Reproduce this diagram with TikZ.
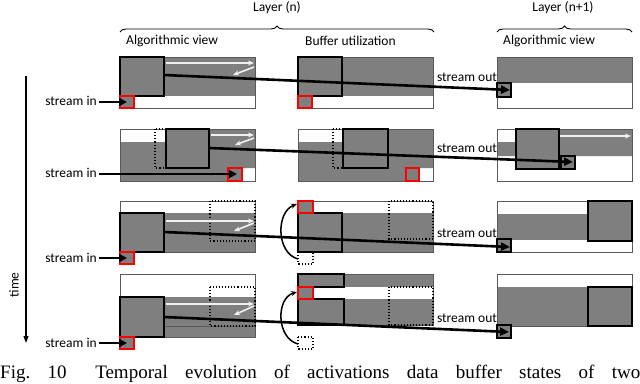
\documentclass[tikz,border=0pt]{standalone}
\usepackage{fontspec}
\setmainfont{Carlito}
\newfontfamily\capfont{Liberation Serif}
\usetikzlibrary{arrows.meta,decorations.pathreplacing}
\definecolor{bufgray}{HTML}{7F7F7F}
\definecolor{boxline}{HTML}{5A5A5A}
\definecolor{warr}{HTML}{F0F0F0}
\definecolor{redsq}{HTML}{FF0000}
\tikzset{
  lbl/.style={font=\fontsize{13.5}{16}\selectfont, inner sep=0pt},
  bufbox/.style={draw=boxline, line width=0.9pt},
  gfill/.style={fill=bufgray},
  tile/.style={draw=black, line width=1.3pt, fill=bufgray},
  rsq/.style={draw=redsq, line width=1.3pt, fill=bufgray},
  osq/.style={draw=black, line width=1.1pt, fill=bufgray},
  dotbox/.style={draw=black, dotted, line width=1.1pt},
  flow/.style={draw=black, line width=2.6pt, -{Triangle[length=9pt,width=8pt]}},
  sin/.style={draw=black, line width=2.6pt, -{Triangle[length=8pt,width=8pt]}},
  warrow/.style={draw=warr, line width=1.6pt, -{Stealth[length=6pt,width=5pt]}},
  curv/.style={draw=black, line width=1.5pt, -{Stealth[length=6pt,width=5pt]}},
  brc/.style={draw=black, line width=0.9pt, decorate, decoration={brace, amplitude=6pt}}
}
\begin{document}
\begin{tikzpicture}[x=1pt,y=-1pt]
\useasboundingbox (0,0) rectangle (640,383);
% headers
\node[lbl] (ln) at (277,8) {Layer (n)};
\node[lbl] (ln1) at (563,8) {Layer (n+1)};
\draw[brc] (120,32) -- (434,32);
\draw[brc] (497,32) -- (632,32);
\node[lbl, anchor=west] (av1) at (126,41) {Algorithmic view};
\node[lbl, anchor=west] (bu) at (305,41) {Buffer utilization};
\node[lbl, anchor=west] (av2) at (503,41) {Algorithmic view};
% time arrow
\coordinate (t0) at (26,76);
\coordinate (t1) at (26,343);
\draw[line width=1.1pt, -{Triangle[length=7pt,width=5pt]}] (t0) -- (t1);
\node[lbl, rotate=90] (time) at (14,285) {time};

% ================= ROW 1 =================
% left
\fill[gfill] (120,57) rectangle (255,96);
\draw[bufbox] (120,57) rectangle (255,108);
\draw[tile] (120,57) rectangle (164,96);
\draw[rsq] (120,96) rectangle (134,108);
\draw[warrow] (166,63) -- (254,63);
\draw[warrow] (254,67) -- (233,75);
% middle
\fill[gfill] (298,57) rectangle (433,96);
\draw[bufbox] (298,57) rectangle (433,108);
\draw[tile] (298,57) rectangle (342,96);
\draw[rsq] (298,96) rectangle (312,108);
% right
\fill[gfill] (497,57) rectangle (632,83);
\draw[bufbox] (497,57) rectangle (632,108);
\draw[osq] (497,83) rectangle (511,97);
% texts & arrows
\node[lbl] (si1) at (71,101) {stream in};
\coordinate (si1e) at (127,102);
\draw[sin] (si1.east) ++(2pt,1) coordinate (si1s) (si1s) -- (si1e);
\node[lbl] (so1) at (467,77) {stream out};
\coordinate (f1s) at (164,75);
\coordinate (f1e) at (510,90);
\draw[flow] (f1s) -- (f1e);

% ================= ROW 2 =================
% left
\fill[gfill] (166,129) -- (255,129) -- (255,168) -- (242,168) -- (242,181) -- (120,181) -- (120,142) -- (166,142) -- cycle;
\draw[bufbox] (120,129) rectangle (255,181);
\draw[rsq] (228,168) rectangle (242,181);
\draw[dotbox] (155,129) rectangle (199,168);
\draw[tile] (166,129) rectangle (209,168);
\draw[warrow] (211,135) -- (254,135);
\draw[warrow] (254,138) -- (235,145);
% middle
\fill[gfill] (343,129) -- (433,129) -- (433,168) -- (419,168) -- (419,181) -- (298,181) -- (298,142) -- (343,142) -- cycle;
\draw[bufbox] (298,129) rectangle (433,181);
\draw[rsq] (406,168) rectangle (419,181);
\draw[dotbox] (333,129) rectangle (378,168);
\draw[tile] (343,129) rectangle (388,168);
% right
\fill[gfill] (516,129) -- (632,129) -- (632,156) -- (497,156) -- (497,142) -- (516,142) -- cycle;
\draw[bufbox] (497,129) rectangle (632,181);
\draw[tile] (516,129) rectangle (559,169);
\draw[osq] (561,156) rectangle (575,169);
\draw[warrow] (560,136) -- (631,136);
% texts & arrows
\node[lbl] (si2) at (71,173) {stream in};
\coordinate (si2e) at (237,174);
\draw[sin] (si2.east) ++(2pt,1) coordinate (si2s) (si2s) -- (si2e);
\node[lbl] (so2) at (467,148) {stream out};
\coordinate (f2s) at (209,148);
\coordinate (f2e) at (573,162);
\draw[flow] (f2s) -- (f2e);

% ================= ROW 3 =================
% left
\fill[gfill] (120,213) rectangle (255,252);
\draw[bufbox] (120,201) rectangle (255,252);
\draw[dotbox] (210,201) rectangle (255,241);
\draw[tile] (120,213) rectangle (164,252);
\draw[rsq] (120,252) rectangle (134,264);
\draw[warrow] (166,221) -- (254,221);
\draw[warrow] (254,223) -- (234,231);
% middle
\fill[gfill] (298,213) rectangle (433,252);
\draw[bufbox] (298,201) rectangle (433,252);
\draw[tile] (298,213) rectangle (342,252);
\draw[dotbox] (389,201) rectangle (433,239);
\draw[rsq] (298,201) rectangle (313,213);
\draw[dotbox] (298,252) rectangle (313,264);
\coordinate (c3s) at (298,259);
\coordinate (c3e) at (297,204);
\draw[curv] (c3s) .. controls (276,253) and (276,212) .. (c3e);
% right
\fill[gfill] (497,214) rectangle (632,240);
\draw[bufbox] (497,201) rectangle (632,252);
\draw[tile] (588,201) rectangle (632,241);
\draw[osq] (497,239) rectangle (511,252);
% texts & arrows
\node[lbl] (si3) at (71,258) {stream in};
\coordinate (si3e) at (127,258);
\draw[sin] (si3.east) ++(2pt,0) coordinate (si3s) (si3s) -- (si3e);
\node[lbl] (so3) at (467,233) {stream out};
\coordinate (f3s) at (164,232);
\coordinate (f3e) at (510,247);
\draw[flow] (f3s) -- (f3e);

% ================= ROW 4 =================
% left
\fill[gfill] (120,297) rectangle (255,337);
\draw[bufbox] (120,274) rectangle (255,337);
\draw[boxline, line width=0.8pt] (120,326) -- (255,326);
\draw[dotbox] (210,287) rectangle (255,326);
\draw[tile] (120,297) rectangle (164,337);
\draw[rsq] (120,337) rectangle (134,349);
\draw[warrow] (166,304) -- (254,304);
\draw[warrow] (254,306) -- (234,315);
% middle
\fill[gfill] (298,274) rectangle (433,287);
\fill[gfill] (298,299) rectangle (433,325);
\draw[bufbox] (298,274) rectangle (433,325);
\draw[tile] (298,274) rectangle (344,287);
\draw[tile] (298,299) rectangle (344,325);
\draw[dotbox] (389,287) rectangle (433,325);
\draw[rsq] (298,287) rectangle (313,299);
\draw[dotbox] (298,337) rectangle (313,349);
\coordinate (c4s) at (298,344);
\coordinate (c4e) at (297,292);
\draw[curv] (c4s) .. controls (276,338) and (276,298) .. (c4e);
% right
\fill[gfill] (497,287) rectangle (632,326);
\draw[bufbox] (497,274) rectangle (632,326);
\draw[tile] (588,287) rectangle (632,326);
\draw[osq] (497,325) rectangle (511,338);
% texts & arrows
\node[lbl] (si4) at (71,343) {stream in};
\coordinate (si4e) at (127,343);
\draw[sin] (si4.east) ++(2pt,0) coordinate (si4s) (si4s) -- (si4e);
\node[lbl] (so4) at (467,318) {stream out};
\coordinate (f4s) at (164,317);
\coordinate (f4e) at (509,332);
\draw[flow] (f4s) -- (f4e);

% caption
\node[anchor=base west, inner sep=0pt, font=\capfont\fontsize{19}{22}\selectfont] (cap) at (0,378)
  {\hbox to 640pt{Fig.\hfill 10\hskip 0.6em\hfill Temporal\hfill evolution\hfill of\hfill activations\hfill data\hfill buffer\hfill states\hfill of\hfill two}};
\end{tikzpicture}
\end{document}
